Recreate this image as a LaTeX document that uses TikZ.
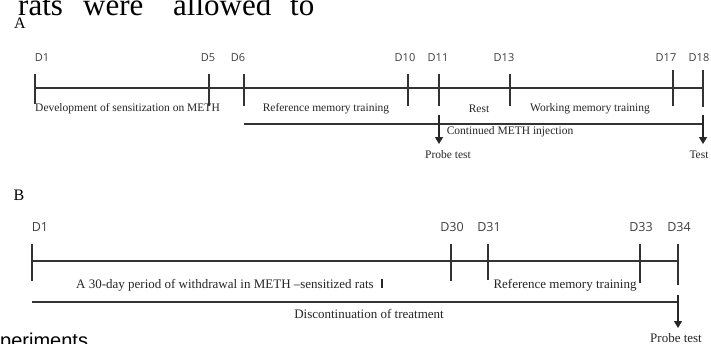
\documentclass[tikz,border=0pt]{standalone}
\usepackage{fontspec}
\setmainfont{Liberation Serif}
\newfontfamily\dayfont{Open Sans}
\newfontfamily\plainsans{Liberation Sans}
\usetikzlibrary{arrows.meta}
\begin{document}
\begin{tikzpicture}[x=1pt,y=-1pt,
  tl/.style={line width=1.1pt, draw=black!80},
  arr/.style={line width=1.1pt, draw=black!85, -{Triangle[width=8pt,length=7pt]}},
  dayA/.style={font=\dayfont\fontsize{11}{11}\selectfont, text=black!75, inner sep=0pt},
  dayB/.style={font=\dayfont\fontsize{12.5}{12.5}\selectfont, text=black!75, inner sep=0pt},
  lblA/.style={font=\fontsize{11.5}{11.5}\selectfont, text=black!85, inner sep=0pt},
  lblB/.style={font=\fontsize{13}{13}\selectfont, text=black!85, inner sep=0pt},
  panel/.style={font=\fontsize{16}{16}\selectfont, inner sep=0pt},
  bigtext/.style={font=\fontsize{31}{31}\selectfont, inner sep=0pt, anchor=base west},
]
\clip (0,0) rectangle (711,343);
\fill[white] (0,0) rectangle (711,343);

% cropped surrounding text
\node[bigtext] (w1) at (18,15) {rats};
\node[bigtext] (w2) at (83,15) {were};
\node[bigtext] (w3) at (173,15) {allowed};
\node[bigtext] (w4) at (290,15) {to};
\node[font=\plainsans\fontsize{20}{20}\selectfont, inner sep=0pt, anchor=base west] (w5) at (0,347) {periments};

% ---------------- Panel A ----------------
\node[panel] (pA) at (20,23) {A};
\node[dayA] (a1)  at (42,58)  {D1};
\node[dayA] (a5)  at (208,58) {D5};
\node[dayA] (a6)  at (238,58) {D6};
\node[dayA] (a10) at (405,58) {D10};
\node[dayA] (a11) at (438,58) {D11};
\node[dayA] (a13) at (504,58) {D13};
\node[dayA] (a17) at (666,58) {D17};
\node[dayA] (a18) at (699,58) {D18};

\coordinate (aL) at (35,88);
\coordinate (aR) at (703,88);
\draw[tl] (aL) -- (aR);
\draw[tl] (35,74) -- (35,104);
\draw[tl] (209,74) -- (209,106);
\draw[tl] (244,74) -- (244,106);
\draw[tl] (408,74) -- (408,106);
\draw[tl] (439,74) -- (439,106);
\draw[tl] (510,74) -- (510,106);
\draw[tl] (673,70) -- (673,106);
\draw[tl] (703,70) -- (703,107);

\node[lblA, anchor=west] (dev) at (35,109) {Development of sensitization on METH};
\node[lblA] (refA) at (326,109) {Reference memory training};
\node[lblA] (rest) at (479,109) {Rest};
\node[lblA] (work) at (590,109) {Working memory training};

\coordinate (a2L) at (244,124);
\coordinate (a2R) at (703,124);
\draw[tl] (a2L) -- (a2R);
\node[lblA] (cont) at (510,132) {Continued METH injection};

\coordinate (p1s) at (439,115);
\coordinate (p1e) at (439,144);
\draw[arr] (p1s) -- (p1e);
\node[lblA] (probeA) at (448,155) {Probe test};
\coordinate (p2s) at (703,115);
\coordinate (p2e) at (703,144);
\draw[arr] (p2s) -- (p2e);
\node[lblA] (testA) at (699,155) {Test};

% ---------------- Panel B ----------------
\node[panel] (pB) at (19,195) {B};
\node[dayB] (b1)  at (40,227)  {D1};
\node[dayB] (b30) at (452,227) {D30};
\node[dayB] (b31) at (489,227) {D31};
\node[dayB] (b33) at (641,227) {D33};
\node[dayB] (b34) at (679,227) {D34};

\coordinate (bL) at (32,261);
\coordinate (bR) at (678,261);
\draw[tl] (bL) -- (bR);
\draw[tl] (32,244) -- (32,281);
\draw[tl] (451,244) -- (451,281);
\draw[tl] (488,244) -- (488,280);
\draw[tl] (640,244) -- (640,283);
\draw[tl] (678,244) -- (678,285);

\node[lblB, anchor=west] (wd) at (76,285) {A 30-day period of withdrawal in METH --sensitized rats};
\draw[line width=2pt, black!85] (382,279) -- (382,288);
\node[lblB] (refB) at (565,285) {Reference memory training};

\coordinate (b2L) at (32,302);
\coordinate (b2R) at (678,302);
\draw[tl] (b2L) -- (b2R);
\node[lblB] (disc) at (369,314) {Discontinuation of treatment};

\coordinate (p3s) at (678,295);
\coordinate (p3e) at (678,328);
\draw[arr] (p3s) -- (p3e);
\node[lblB] (probeB) at (676,338) {Probe test};
\end{tikzpicture}
\end{document}
